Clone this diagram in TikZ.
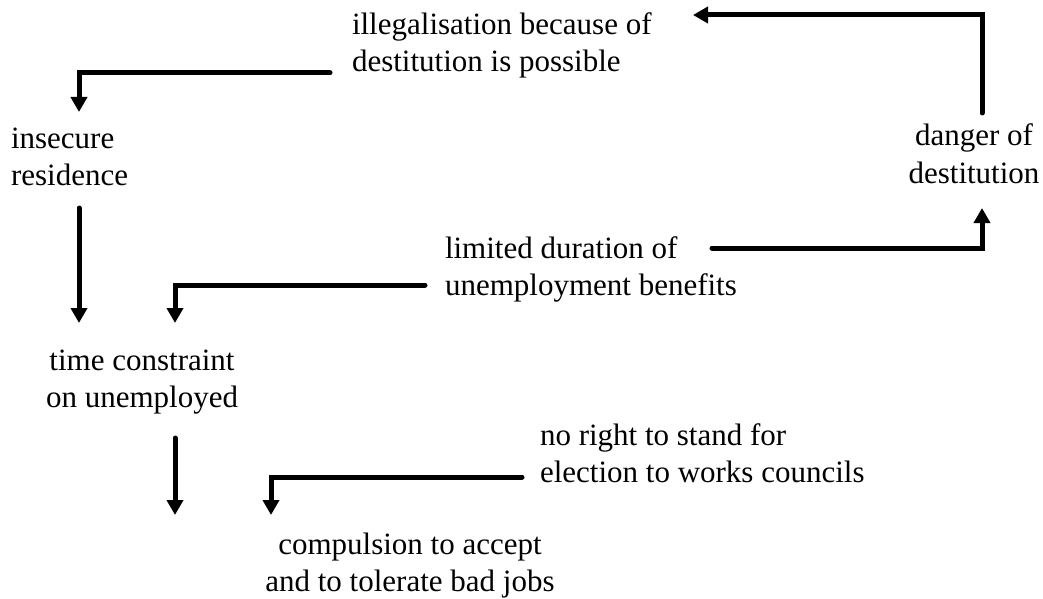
\documentclass[tikz,border=0pt]{standalone}
\usepackage{fontspec}
\setmainfont{Liberation Serif}
\usepackage{tikz}
\usetikzlibrary{arrows.meta}
\usetikzlibrary{positioning}
\tikzset{cause node/.style={inner sep=0pt,outer sep=0pt,font=\fontsize{15.5}{18.5}\selectfont}}
\tikzset{flow/.style={-{Triangle[width=8pt,length=7.5pt]},line width=2.5pt,line cap=round}}

\begin{document}
\begin{tikzpicture}[x=0.5pt,y=-0.5pt]
    \useasboundingbox (0,0) rectangle (1043,599);

    % base anchor = baseline of the last line
    \node[cause node,anchor=base west,align=left] (c_{1}) at (352,72) {illegalisation because of\\destitution is possible};
    \node[cause node,anchor=base west,align=left] (c_{2}) at (11,185) {insecure\\residence};
    \node[cause node,anchor=base,align=center] (c_{3}) at (974,183) {danger of\\destitution};
    \node[cause node,anchor=base west,align=left] (c_{4}) at (445,295) {limited duration of\\unemployment benefits};
    \node[cause node,anchor=base,align=center] (c_{5}) at (142,407) {time constraint\\on unemployed};
    \node[cause node,anchor=base west,align=left] (c_{6}) at (540,482) {no right to stand for\\election to works councils};
    \node[cause node,anchor=base,align=center] (c_{7}) at (410,591) {compulsion to accept\\and to tolerate bad jobs};

    \draw[flow] ([shift={(-22,1)}]c_{1}.base west) -| ([shift={(68,-73)}]c_{2}.base west);
    \draw[flow] ([shift={(68,23)}]c_{2}.base west) -- ([shift={(-63,-84)}]c_{5}.base);
    \draw[flow] ([shift={(-20,-10)}]c_{4}.base west) -| ([shift={(33,-84)}]c_{5}.base);
    \draw[flow] ([shift={(8,-70)}]c_{3}.base) |- ([shift={(341,-57)}]c_{1}.base west);
    \draw[flow] ([shift={(-18,-5)}]c_{6}.base west) -| ([shift={(-139,-76)}]c_{7}.base);
    \draw[flow] ([shift={(33,31)}]c_{5}.base) -- ([shift={(-235,-76)}]c_{7}.base);
    \draw[flow] ([shift={(267,-47)}]c_{4}.base west) -| ([shift={(8,25)}]c_{3}.base);

\end{tikzpicture}
\end{document}
